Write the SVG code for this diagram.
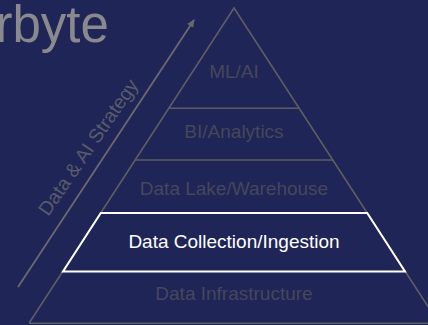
<svg xmlns="http://www.w3.org/2000/svg" width="428" height="325" viewBox="0 0 428 325">
  <style>
    .edge { stroke: #5e5e62; stroke-width: 1.6; fill: none; }
    .lbl { font-family: "Liberation Sans", Arial, sans-serif; font-size: 19px; fill: #46475a; text-anchor: middle; }
    .hl { font-family: "Liberation Sans", Arial, sans-serif; font-size: 19px; fill: #ffffff; text-anchor: middle; }
  </style>
  <defs>
    <marker id="ah" markerWidth="8" markerHeight="8" refX="7" refY="4" orient="auto" markerUnits="userSpaceOnUse">
      <path d="M0,0.5 L8,4 L0,7.5 Z" fill="#6a6a6e"/>
    </marker>
  </defs>
  <rect x="0" y="0" width="428" height="325" fill="#1f2557"/>
  <text x="-4.5" y="42" font-family="Liberation Sans, Arial, sans-serif" font-size="51" fill="#8a8a8e">rbyte</text>

  <g id="connectors">
    <line x1="18" y1="287" x2="194" y2="20" stroke="#6a6a6e" stroke-width="1.8" marker-end="url(#ah)"/>
  </g>
  <g id="strategy-label">
    <text x="93.7" y="151" transform="rotate(-55.5 93.7 151)" font-family="Liberation Sans, Arial, sans-serif" font-size="19.5" fill="#5a5b6a" text-anchor="middle">Data &amp; AI Strategy</text>
  </g>

  <g id="pyramid-outline">
    <path class="edge" d="M29.2,323 L234,8 L440,325"/>
    <line class="edge" x1="29" y1="323.3" x2="428" y2="323.3"/>
  </g>
  <g id="ml-ai">
    <line class="edge" x1="169.6" y1="108.3" x2="298.4" y2="108.3"/>
    <text class="lbl" x="234" y="77.5">ML/AI</text>
  </g>
  <g id="bi-analytics">
    <line class="edge" x1="135.5" y1="160" x2="332.5" y2="160"/>
    <text class="lbl" x="234" y="138">BI/Analytics</text>
  </g>
  <g id="data-lake">
    <text class="lbl" x="234" y="195">Data Lake/Warehouse</text>
  </g>
  <g id="data-collection">
    <path d="M100.8,213 L367.2,213 L405,271.5 L63,271.5 Z" fill="#1f2557" stroke="#ffffff" stroke-width="2"/>
    <text class="hl" x="234" y="247.5">Data Collection/Ingestion</text>
  </g>
  <g id="data-infrastructure">
    <text class="lbl" x="234" y="300">Data Infrastructure</text>
  </g>
</svg>
